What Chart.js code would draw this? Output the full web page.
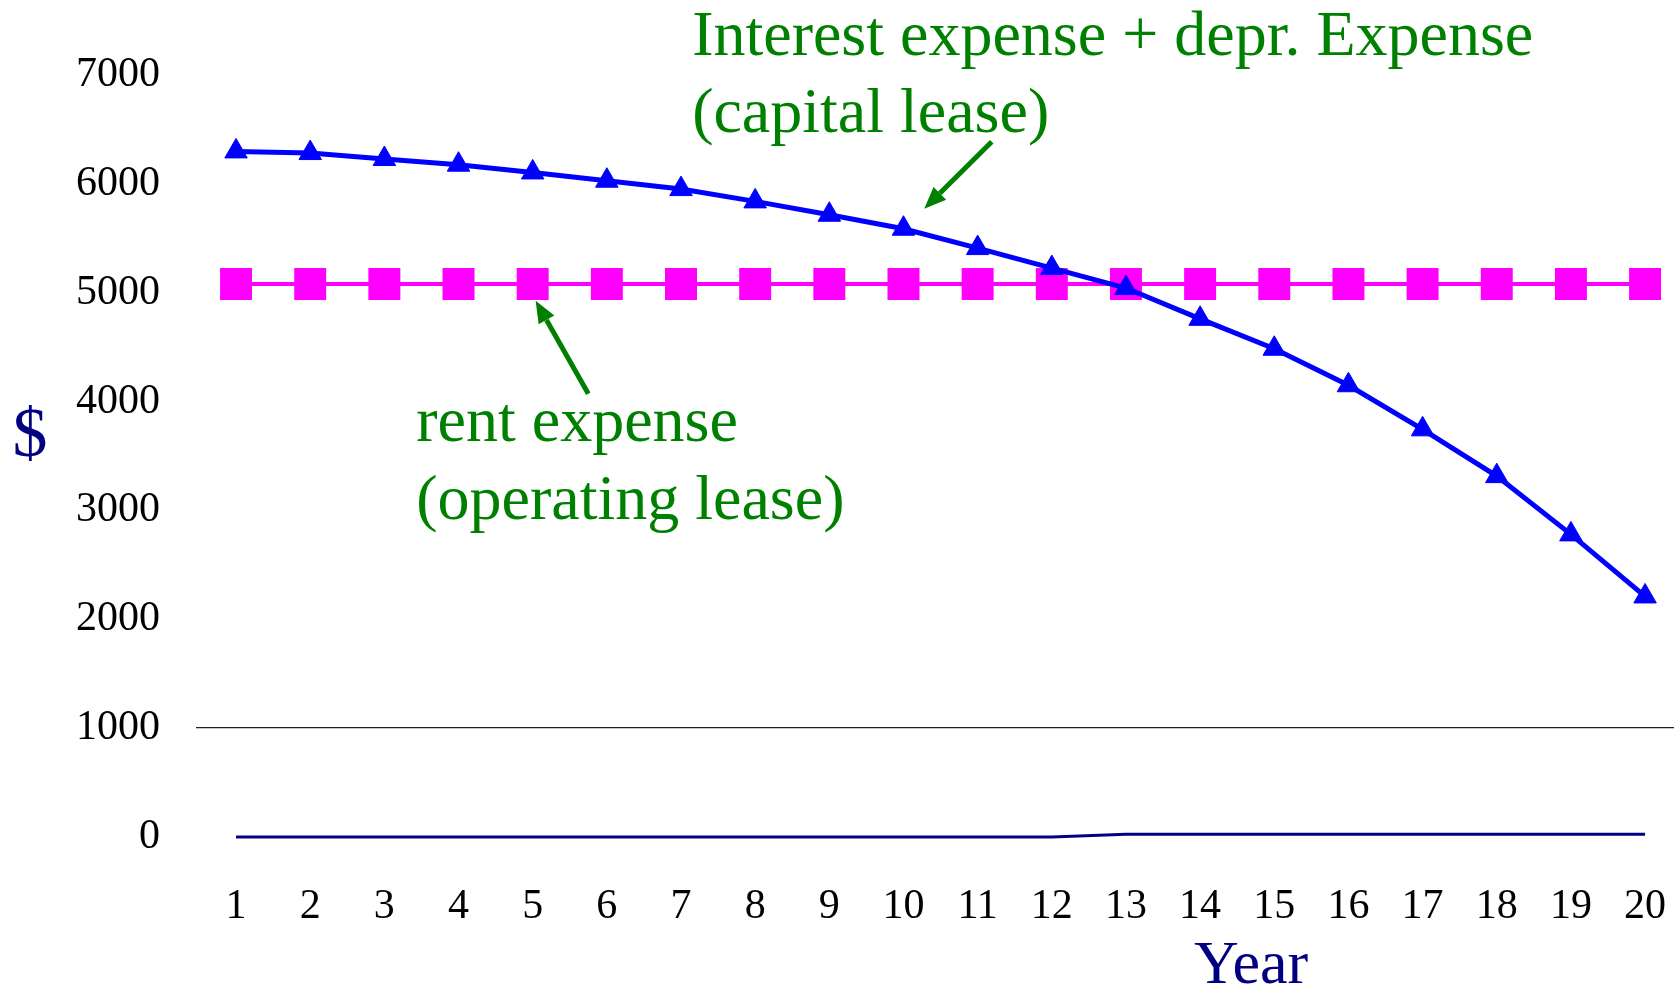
<!DOCTYPE html>
<html lang="en">
<head>
<meta charset="UTF-8">
<title>Capital lease vs operating lease</title>
<script src="https://cdn.jsdelivr.net/npm/chart.js"></script>
<style>
  body { margin: 0; background: #fff; }
  canvas { display: block; }
</style>
</head>
<body>
<canvas id="leaseChart" width="1674" height="988"></canvas>
<script>
// data
const years = [1, 2, 3, 4, 5, 6, 7, 8, 9, 10, 11, 12, 13, 14, 15, 16, 17, 18, 19, 20];
const capitalLease = [6298, 6283, 6228, 6176, 6105, 6029, 5952, 5839, 5716, 5588,
                      5410, 5226, 5043, 4760, 4485, 4150, 3745, 3315, 2780, 2210];
const rentExpense = [5080, 5080, 5080, 5080, 5080, 5080, 5080, 5080, 5080, 5080,
                     5080, 5080, 5080, 5080, 5080, 5080, 5080, 5080, 5080, 5080];
const baseLine = [0, 0, 0, 0, 0, 0, 0, 0, 0, 0, 0, 0, 25, 25, 25, 25, 25, 25, 25, 25];
const yTicks = [0, 1000, 2000, 3000, 4000, 5000, 6000, 7000];

// annotations, in data units
const notes = [
  { text: 'Interest expense + depr. Expense', x: 7.15, y: 7187 },
  { text: '(capital lease)', x: 7.15, y: 6479 },
  { text: 'rent expense', x: 3.43, y: 3639 },
  { text: '(operating lease)', x: 3.43, y: 2922 }
];
const arrows = [
  { from: [11.19, 6387], to: [10.28, 5771] },
  { from: [5.75, 4071], to: [5.04, 4926] }
];

const serif = '"Liberation Serif", "Times New Roman", serif';
const green = '#008000';
const navy = '#000080';

const pairs = vals => years.map((yr, i) => ({ x: yr, y: vals[i] }));

const annotations = {
  id: 'annotations',
  afterDraw(chart) {
    const ctx = chart.ctx;
    const xs = chart.scales.x, ys = chart.scales.y;
    ctx.save();
    ctx.fillStyle = green;
    ctx.font = '64px ' + serif;
    ctx.textAlign = 'left';
    ctx.textBaseline = 'alphabetic';
    notes.forEach(n => {
      ctx.fillText(n.text, xs.getPixelForValue(n.x), ys.getPixelForValue(n.y));
    });

    ctx.strokeStyle = green;
    ctx.lineWidth = 5;
    arrows.forEach(a => {
      const x1 = xs.getPixelForValue(a.from[0]), y1 = ys.getPixelForValue(a.from[1]);
      const x2 = xs.getPixelForValue(a.to[0]), y2 = ys.getPixelForValue(a.to[1]);
      const ang = Math.atan2(y2 - y1, x2 - x1);
      const head = 22, half = 9;
      const bx = x2 - head * Math.cos(ang), by = y2 - head * Math.sin(ang);
      ctx.beginPath();
      ctx.moveTo(x1, y1);
      ctx.lineTo(bx, by);
      ctx.stroke();
      ctx.beginPath();
      ctx.moveTo(x2, y2);
      ctx.lineTo(bx + half * Math.sin(ang), by - half * Math.cos(ang));
      ctx.lineTo(bx - half * Math.sin(ang), by + half * Math.cos(ang));
      ctx.closePath();
      ctx.fill();
    });

    // axis titles
    ctx.fillStyle = navy;
    ctx.font = '70px ' + serif;
    ctx.textAlign = 'center';
    ctx.textBaseline = 'middle';
    ctx.fillText('$', 30, 438);
    ctx.font = '62px ' + serif;
    ctx.textAlign = 'left';
    ctx.textBaseline = 'alphabetic';
    ctx.fillText('Year', 1194, 983);
    ctx.restore();
  }
};

new Chart(document.getElementById('leaseChart'), {
  type: 'line',
  data: {
    datasets: [
      {
        label: 'Interest expense + depr. expense',
        data: pairs(capitalLease),
        borderColor: '#0000FF',
        backgroundColor: '#0000FF',
        borderWidth: 5,
        pointStyle: 'triangle',
        pointRadius: 13,
        pointBorderWidth: 1,
        tension: 0
      },
      {
        label: 'Rent expense',
        data: pairs(rentExpense),
        borderColor: '#FF00FF',
        backgroundColor: '#FF00FF',
        borderWidth: 4,
        pointStyle: 'rect',
        pointRadius: 22.6,
        pointBorderWidth: 0,
        tension: 0
      },
      {
        label: 'Base',
        data: pairs(baseLine),
        borderColor: navy,
        borderWidth: 3,
        pointRadius: 0,
        tension: 0
      }
    ]
  },
  options: {
    responsive: false,
    devicePixelRatio: 1,
    animation: false,
    clip: false,
    layout: { autoPadding: false, padding: { top: 75, right: 0, bottom: 0, left: 0 } },
    plugins: {
      legend: { display: false },
      tooltip: { enabled: false }
    },
    scales: {
      x: {
        type: 'linear',
        min: 0.46,
        max: 20.39,
        afterBuildTicks: scale => { scale.ticks = years.map(v => ({ value: v })); },
        afterFit: scale => {
          scale.height = 151;
          scale.paddingLeft = 0;
          scale.paddingRight = 0;
        },
        grid: { display: false, drawTicks: false },
        border: { display: false },
        ticks: {
          color: '#000',
          padding: 45,
          maxRotation: 0,
          autoSkip: false,
          callback: v => String(v),
          font: { family: serif, size: 42 }
        }
      },
      y: {
        min: 0,
        max: 7000,
        afterBuildTicks: scale => { scale.ticks = yTicks.map(v => ({ value: v })); },
        afterFit: scale => {
          scale.width = 196;
          scale.paddingTop = 0;
          scale.paddingBottom = 0;
        },
        grid: {
          drawTicks: false,
          lineWidth: 1.3,
          color: c => (c.tick && c.tick.value === 1000) ? '#222' : 'rgba(0,0,0,0)'
        },
        border: { display: false },
        ticks: {
          color: '#000',
          padding: 36,
          callback: v => String(v),
          font: { family: serif, size: 42 }
        }
      }
    }
  },
  plugins: [annotations]
});
</script>
</body>
</html>
